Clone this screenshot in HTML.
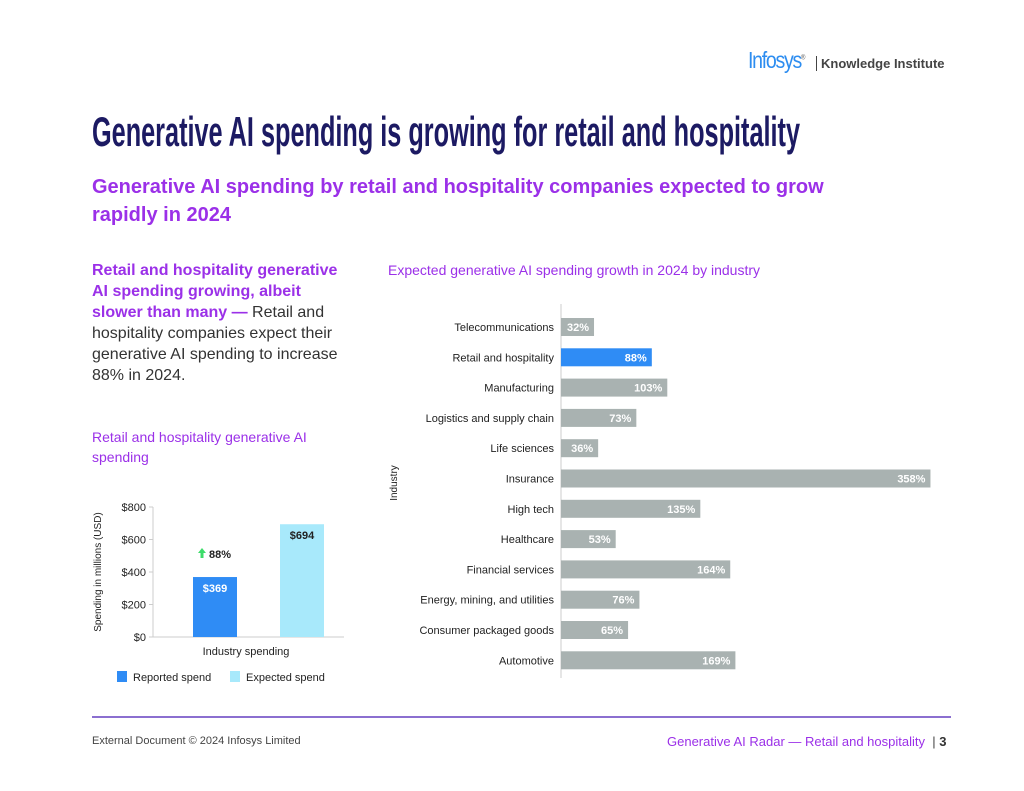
<!DOCTYPE html>
<html><head><meta charset="utf-8"><style>
body{margin:0;background:#fff;font-family:"Liberation Sans",sans-serif}
#page{position:relative;width:1024px;height:791px;overflow:hidden;background:#fff}
.abs{position:absolute}
</style></head><body>
<div id="page">
<div class="abs" style="left:748px;top:47px;font-size:23px;color:#2d8df0;letter-spacing:-1.5px;transform:scaleX(0.85);transform-origin:left">Infosys<sup style="font-size:7px;color:#555">®</sup></div>
<div class="abs" style="left:816px;top:56px;font-size:13px;color:#444;font-weight:bold;border-left:1px solid #444;padding-left:4px;line-height:15px">Knowledge Institute</div>
<svg class="abs" style="left:0;top:0" width="1024" height="160">
<text x="92" y="146" textLength="708" lengthAdjust="spacingAndGlyphs" font-family="Liberation Sans Narrow, Liberation Sans, sans-serif" font-size="42" font-weight="bold" fill="#1c1a63">Generative AI spending is growing for retail and hospitality</text>
</svg>
<div class="abs" style="left:92px;top:173px;width:800px;font-size:20px;font-weight:bold;color:#9b30e8;line-height:28px">Generative AI spending by retail and hospitality companies expected to grow rapidly in 2024</div>
<div class="abs" style="left:92px;top:260px;width:256px;font-size:16px;line-height:21px;color:#333"><b style="color:#9b30e8">Retail and hospitality generative AI spending growing, albeit slower than many —</b> Retail and hospitality companies expect their generative AI spending to increase 88% in 2024.</div>
<div class="abs" style="left:92px;top:427px;width:250px;font-size:14px;line-height:20px;color:#9b30e8">Retail and hospitality generative AI spending</div>
<div class="abs" style="left:388px;top:262px;font-size:14px;color:#9b30e8">Expected generative AI spending growth in 2024 by industry</div>
<svg class="abs" style="left:0;top:0" width="1024" height="791" id="charts"></svg>
<div class="abs" style="left:92px;top:716px;width:859px;height:2px;background:#8b6fd0"></div>
<div class="abs" style="left:92px;top:735px;font-size:11px;color:#444">External Document © 2024 Infosys Limited</div>
<div class="abs" style="left:667px;top:734px;font-size:13px;color:#9b30e8">Generative AI Radar — Retail and hospitality <span style="color:#444">&nbsp;|&nbsp;</span><b style="color:#333">3</b></div>
</div>
<script>
const spendSeries=["Reported spend","Expected spend"];
const spendValues=[369,694];
const spendTicks=[0,200,400,600,800];
const industries=["Telecommunications","Retail and hospitality","Manufacturing","Logistics and supply chain","Life sciences","Insurance","High tech","Healthcare","Financial services","Energy, mining, and utilities","Consumer packaged goods","Automotive"];
const growth=[32,88,103,73,36,358,135,53,164,76,65,169];
const NS="http://www.w3.org/2000/svg";
const svg=document.getElementById('charts');
function mk(t,a,txt){const e=document.createElementNS(NS,t);for(const k in a)e.setAttribute(k,a[k]);if(txt!==undefined)e.textContent=txt;svg.appendChild(e);return e;}
// left chart
const y0=637,y1=507,ymax=800;
const ly=v=>y0-(v/ymax)*(y0-y1);
let e=mk('line',{x1:153,y1:y1,x2:153,y2:y0,stroke:'#ccc'});

e=mk('line',{x1:153,y1:y0,x2:344,y2:y0,stroke:'#ccc'});

spendTicks.forEach(t=>{
 const l=mk('line',{x1:149,x2:153,y1:ly(t),y2:ly(t),stroke:'#ccc'});
 
 const tx=mk('text',{x:146,y:ly(t)+4,'text-anchor':'end','font-size':11,fill:'#222'},'$'+t);
 
});
const cols=['#2f8cf5','#a8e9fb'],bx=[193,280];
spendValues.forEach((v,i)=>{
 const r=mk('rect',{x:bx[i],y:ly(v),width:44,height:y0-ly(v),fill:cols[i]});
 
 const t=mk('text',{x:bx[i]+22,y:ly(v)+15,'text-anchor':'middle','font-size':11,'font-weight':'bold',fill:i?'#222':'#fff'},'$'+v);
 
});
e=mk('path',{d:'M198 553 L202 548 L206 553 L203.5 553 L203.5 558 L200.5 558 L200.5 553 Z',fill:'#3ddc6a'});

e=mk('text',{x:209,y:558,'font-size':11,'font-weight':'bold',fill:'#222'},Math.round((spendValues[1]/spendValues[0]-1)*100)+'%');

e=mk('text',{x:246,y:655,'text-anchor':'middle','font-size':11,fill:'#222'},'Industry spending');

e=mk('text',{transform:'translate(101,572) rotate(-90)','text-anchor':'middle','font-size':10,fill:'#222'},'Spending in millions (USD)');

spendSeries.forEach((s,i)=>{
 const lx=[117,230][i];
 const r=mk('rect',{x:lx,y:671,width:10,height:11,fill:cols[i]});
 
 const t=mk('text',{x:lx+16,y:681,'font-size':11,fill:'#222'},s);
 
});
// right chart
const axX=561,barScale=1.032,firstY=327,rowStep=30.3,barH=18;
e=mk('line',{x1:axX,y1:304,x2:axX,y2:678,stroke:'#ccc'});

e=mk('text',{transform:'translate(397,483) rotate(-90)','text-anchor':'middle','font-size':10,fill:'#222'},'Industry');

industries.forEach((n,i)=>{
 const cy=firstY+i*rowStep,w=growth[i]*barScale;
 const r=mk('rect',{x:axX,y:cy-barH/2,width:w,height:barH,fill:n==='Retail and hospitality'?'#2f8cf5':'#a9b2b1'});
 
 const l=mk('text',{x:554,y:cy+4,'text-anchor':'end','font-size':11,fill:'#222'},n);
 
 const v=mk('text',{x:axX+w-5,y:cy+4,'text-anchor':'end','font-size':11,'font-weight':'bold',fill:'#fff'},growth[i]+'%');
 
});
</script>
</body></html>
